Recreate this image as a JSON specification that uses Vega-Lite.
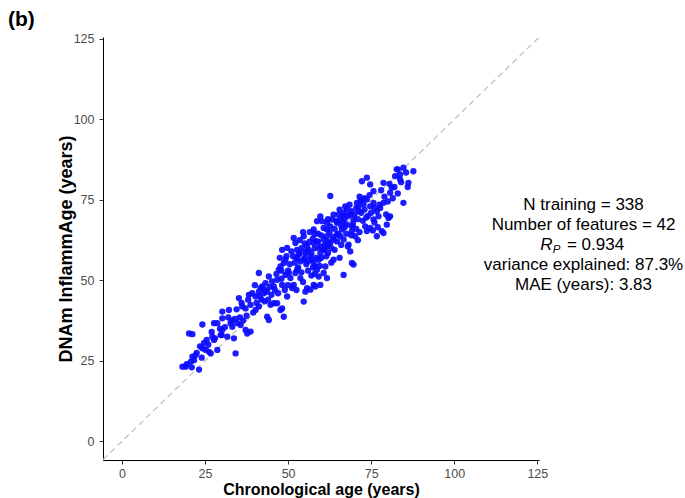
{
  "$schema": "https://vega.github.io/schema/vega-lite/v6.json",
  "width": 436,
  "height": 423,
  "autosize": {"type": "none"},
  "padding": {"left": 103, "top": 37, "right": 146, "bottom": 38},
  "background": "white",
  "title": {"text": "(b)", "anchor": "start", "frame": "group", "fontSize": 21, "fontWeight": "bold", "font": "Liberation Sans", "color": "black", "dx": -95, "offset": 3},
  "config": {
    "view": {"stroke": null},
    "axis": {"grid": false, "domainColor": "black", "domainWidth": 1, "tickColor": "#333333", "tickSize": 4, "labelColor": "#4d4d4d", "labelFont": "Liberation Sans", "labelFontSize": 12.5, "titleFont": "Liberation Sans", "titleFontWeight": "bold", "titleColor": "black"}
  },
  "datasets": {
    "pts": [
      {"x":18.2,"y":23.2},{"x":19.2,"y":23.2},{"x":20.7,"y":24.7},{"x":21.7,"y":25.2},{"x":23.2,"y":22.3},{"x":21.2,"y":26.3},{"x":22.2,"y":26.8},{"x":24.2,"y":28.9},{"x":25.2,"y":28.4},{"x":26.2,"y":27.8},
      {"x":26.7,"y":27.3},{"x":28.7,"y":28.4},{"x":24.7,"y":30.6},{"x":27.2,"y":32.5},{"x":27.7,"y":31.5},{"x":29.7,"y":33.0},{"x":30.2,"y":34.6},{"x":31.7,"y":32.5},{"x":33.7,"y":32.0},{"x":34.2,"y":27.3},
      {"x":20.2,"y":33.5},{"x":21.2,"y":33.3},{"x":24.2,"y":36.3},{"x":27.7,"y":36.7},{"x":28.7,"y":36.7},{"x":30.2,"y":38.2},{"x":30.2,"y":40.3},{"x":32.2,"y":40.8},{"x":32.7,"y":36.7},{"x":33.2,"y":35.6},
      {"x":34.7,"y":36.7},{"x":35.7,"y":36.1},{"x":37.2,"y":34.6},{"x":38.7,"y":34.1},{"x":37.7,"y":33.5},{"x":35.2,"y":44.5},{"x":36.2,"y":41.9},{"x":37.2,"y":41.3},{"x":38.2,"y":45.5},{"x":38.7,"y":42.4},
      {"x":40.2,"y":40.8},{"x":41.2,"y":41.9},{"x":39.2,"y":46.0},{"x":40.2,"y":45.0},{"x":41.2,"y":46.5},{"x":41.7,"y":47.6},{"x":42.7,"y":46.0},{"x":43.7,"y":46.5},{"x":44.2,"y":37.7},{"x":43.7,"y":38.7},
      {"x":44.7,"y":42.4},{"x":45.7,"y":42.9},{"x":46.7,"y":42.9},{"x":47.7,"y":40.8},{"x":48.2,"y":41.3},{"x":48.7,"y":38.7},{"x":49.7,"y":45.0},{"x":41.2,"y":52.3},{"x":42.2,"y":48.1},{"x":43.2,"y":49.1},
      {"x":44.2,"y":51.2},{"x":45.2,"y":49.7},{"x":45.7,"y":48.1},{"x":46.7,"y":50.2},{"x":47.2,"y":53.3},{"x":47.7,"y":54.3},{"x":48.2,"y":48.6},{"x":49.2,"y":51.7},{"x":50.2,"y":52.3},{"x":50.7,"y":50.7},
      {"x":51.2,"y":47.6},{"x":51.7,"y":48.6},{"x":52.2,"y":52.3},{"x":52.7,"y":53.3},{"x":53.7,"y":50.7},{"x":54.7,"y":43.4},{"x":55.2,"y":46.5},{"x":55.7,"y":47.6},{"x":56.7,"y":47.1},{"x":57.7,"y":48.6},
      {"x":58.2,"y":48.1},{"x":59.2,"y":51.2},{"x":59.7,"y":48.6},{"x":60.7,"y":52.3},{"x":61.7,"y":50.7},{"x":61.2,"y":54.3},{"x":66.7,"y":51.7},{"x":69.7,"y":54.9},{"x":69.2,"y":55.4},{"x":49.2,"y":56.4},
      {"x":48.7,"y":55.4},{"x":48.2,"y":59.5},{"x":49.7,"y":60.1},{"x":51.7,"y":63.2},{"x":52.2,"y":61.6},{"x":52.7,"y":59.5},{"x":53.2,"y":58.0},{"x":52.7,"y":56.9},{"x":53.7,"y":55.9},{"x":54.7,"y":56.4},
      {"x":54.7,"y":63.7},{"x":55.2,"y":58.5},{"x":55.7,"y":60.6},{"x":56.2,"y":59.5},{"x":56.7,"y":57.5},{"x":57.2,"y":56.4},{"x":57.7,"y":55.4},{"x":58.2,"y":54.3},{"x":58.7,"y":53.3},{"x":59.2,"y":56.4},
      {"x":57.7,"y":61.6},{"x":58.7,"y":62.1},{"x":59.2,"y":60.1},{"x":59.7,"y":58.5},{"x":60.7,"y":59.5},{"x":61.7,"y":60.6},{"x":62.7,"y":61.6},{"x":63.7,"y":56.4},{"x":63.7,"y":62.7},{"x":64.7,"y":62.1},
      {"x":65.7,"y":63.7},{"x":66.7,"y":62.7},{"x":68.2,"y":61.1},{"x":68.7,"y":59.0},{"x":69.2,"y":65.3},{"x":57.7,"y":65.8},{"x":58.7,"y":68.4},{"x":59.7,"y":69.9},{"x":60.7,"y":66.3},{"x":61.7,"y":65.8},
      {"x":62.7,"y":66.8},{"x":63.7,"y":70.4},{"x":64.7,"y":67.9},{"x":65.7,"y":68.9},{"x":66.7,"y":71.0},{"x":67.2,"y":73.0},{"x":67.7,"y":72.0},{"x":68.7,"y":70.4},{"x":69.7,"y":68.9},{"x":70.2,"y":63.7},
      {"x":70.7,"y":74.1},{"x":71.2,"y":73.0},{"x":71.7,"y":74.6},{"x":72.2,"y":75.1},{"x":72.7,"y":73.6},{"x":73.2,"y":66.8},{"x":73.7,"y":65.3},{"x":74.7,"y":66.3},{"x":75.7,"y":68.9},{"x":76.7,"y":71.5},
      {"x":77.2,"y":69.9},{"x":77.7,"y":72.5},{"x":78.7,"y":74.1},{"x":79.7,"y":67.3},{"x":80.2,"y":69.4},{"x":80.7,"y":69.9},{"x":78.2,"y":65.3},{"x":78.7,"y":64.7},{"x":76.7,"y":63.7},{"x":62.7,"y":76.2},
      {"x":72.2,"y":80.8},{"x":73.7,"y":81.9},{"x":74.7,"y":79.8},{"x":75.7,"y":77.7},{"x":78.7,"y":80.3},{"x":80.7,"y":77.2},{"x":81.2,"y":78.8},{"x":82.7,"y":84.5},{"x":83.7,"y":82.9},{"x":84.7,"y":85.0},
      {"x":84.7,"y":74.1},{"x":86.2,"y":80.3},{"x":87.7,"y":83.9},{"x":83.7,"y":81.4},{"x":82.2,"y":82.4},{"x":64.7,"y":64.2},{"x":66.2,"y":65.8},{"x":65.2,"y":70.4},{"x":63.2,"y":68.9},{"x":61.7,"y":67.9},
      {"x":60.2,"y":68.4},{"x":60.7,"y":62.7},{"x":61.7,"y":63.7},{"x":67.7,"y":67.3},{"x":69.2,"y":66.8},{"x":71.2,"y":71.5},{"x":74.7,"y":73.0},{"x":73.7,"y":75.1},{"x":75.7,"y":74.1},
      {"x":50.5,"y":55.0},{"x":51.5,"y":57.5},{"x":53.0,"y":54.0},{"x":54.0,"y":52.5},{"x":55.5,"y":55.0},{"x":56.0,"y":53.0},{"x":57.0,"y":51.5},{"x":58.0,"y":52.0},{"x":56.5,"y":62.0},{"x":57.5,"y":63.0},
      {"x":55.0,"y":61.5},{"x":54.0,"y":60.0},{"x":53.5,"y":62.5},{"x":60.0,"y":64.0},{"x":61.0,"y":61.0},{"x":62.0,"y":58.5},{"x":63.0,"y":60.0},{"x":64.0,"y":66.0},{"x":65.0,"y":64.5},{"x":66.0,"y":67.0},
      {"x":67.0,"y":69.0},{"x":68.0,"y":70.0},{"x":69.0,"y":71.5},{"x":70.0,"y":70.5},{"x":71.0,"y":69.0},{"x":72.0,"y":71.0},{"x":73.0,"y":72.0},{"x":74.0,"y":70.0},{"x":75.0,"y":71.0},{"x":76.0,"y":72.5},
      {"x":70.5,"y":72.5},{"x":71.5,"y":76.0},{"x":68.5,"y":73.5},{"x":66.5,"y":68.0},{"x":65.5,"y":72.0},{"x":62.0,"y":69.0},{"x":59.0,"y":64.5},{"x":58.0,"y":60.0},{"x":57.0,"y":58.5},{"x":55.0,"y":57.0},
      {"x":52.0,"y":55.5},{"x":50.0,"y":53.0},{"x":48.0,"y":50.5},{"x":46.0,"y":47.0},{"x":45.0,"y":45.5},{"x":44.0,"y":44.0},{"x":47.0,"y":46.0},{"x":43.0,"y":43.5},{"x":42.0,"y":44.0},{"x":40.5,"y":43.0},
      {"x":39.5,"y":40.0},{"x":37.5,"y":39.0},{"x":36.5,"y":37.5},{"x":35.5,"y":38.5},{"x":34.0,"y":38.0},{"x":31.0,"y":35.5},{"x":29.5,"y":35.0},{"x":28.0,"y":32.0},{"x":26.0,"y":30.0},{"x":25.5,"y":31.5},
      {"x":23.5,"y":29.5},{"x":22.5,"y":27.5},{"x":19.5,"y":24.0},{"x":60.0,"y":57.0},{"x":61.5,"y":57.5},{"x":63.5,"y":63.5},{"x":64.0,"y":59.5},{"x":62.5,"y":65.0},{"x":66.0,"y":61.0},{"x":67.5,"y":64.5},
      {"x":69.5,"y":67.5},{"x":70.5,"y":66.0},{"x":72.5,"y":68.5},{"x":73.5,"y":69.5},{"x":76.0,"y":68.0},{"x":77.5,"y":73.5},{"x":79.0,"y":76.0},{"x":80.0,"y":74.5},{"x":81.5,"y":75.5},{"x":82.0,"y":79.0},
      {"x":83.0,"y":77.0},{"x":84.0,"y":80.5},{"x":85.5,"y":83.5},{"x":79.5,"y":70.5},{"x":77.0,"y":66.5},{"x":75.5,"y":65.5},{"x":71.0,"y":62.5},{"x":68.0,"y":60.5},{"x":65.5,"y":57.0},{"x":63.0,"y":55.5},
      {"x":59.5,"y":54.5},{"x":54.5,"y":49.5},{"x":52.5,"y":47.0},{"x":50.0,"y":48.5},{"x":49.0,"y":47.0},{"x":53.5,"y":58.5},{"x":56.0,"y":56.0},{"x":58.5,"y":57.0},{"x":61.0,"y":59.5},{"x":59.0,"y":62.0},
      {"x":56.5,"y":65.0},{"x":54.5,"y":65.0},{"x":52.5,"y":57.0},{"x":51.0,"y":59.0},{"x":49.5,"y":57.5},{"x":48.0,"y":53.0},{"x":47.5,"y":57.0},{"x":46.5,"y":52.0},{"x":44.5,"y":48.0},{"x":43.0,"y":47.0},
      {"x":41.5,"y":45.0},{"x":40.0,"y":48.5},{"x":38.0,"y":44.0},{"x":36.0,"y":43.0},{"x":34.5,"y":41.0},{"x":33.0,"y":37.5},{"x":32.0,"y":38.5},{"x":30.0,"y":33.0},{"x":27.0,"y":34.0},{"x":24.0,"y":26.0},
      {"x":21.0,"y":23.0},{"x":64.5,"y":68.5},{"x":66.5,"y":70.0},{"x":62.0,"y":62.0},{"x":60.0,"y":60.5},{"x":58.0,"y":64.5},{"x":55.5,"y":59.0},{"x":57.5,"y":54.0},{"x":67.0,"y":66.5},{"x":69.0,"y":64.0},
      {"x":71.5,"y":65.0},{"x":73.0,"y":75.5},{"x":74.5,"y":76.5},{"x":78.0,"y":78.0},{"x":80.5,"y":80.0},{"x":86.0,"y":79.0},{"x":83.0,"y":84.5}
    ],
    "diag": [{"x": -10, "y": -10, "x2": 130, "y2": 130}],
    "notes": [
      {"x": 138.9, "y": 73.4, "label": "N training = 338"},
      {"x": 138.9, "y": 67.2, "label": "Number of features = 42"},
      {"x": 138.9, "y": 54.8, "label": "variance explained: 87.3%"},
      {"x": 138.9, "y": 48.6, "label": "MAE (years): 3.83"}
    ],
    "rp": [{"x": 129.6, "y": 61.0, "r": "R", "p": "P", "v": "= 0.934", "xv": 133.9}]
  },
  "layer": [
    {
      "data": {"name": "diag"},
      "mark": {"type": "rule", "clip": true, "color": "#bdbdbd", "strokeDash": [6, 4], "strokeWidth": 1.2},
      "encoding": {
        "x": {"field": "x", "type": "quantitative", "scale": {"domain": [-5.7, 125.5], "nice": false, "zero": false}, "axis": {"values": [0, 25, 50, 75, 100, 125], "title": "Chronological age (years)", "titleFontSize": 16, "titlePadding": 2, "labelPadding": 3}},
        "y": {"field": "y", "type": "quantitative", "scale": {"domain": [-5.8, 125.6], "nice": false, "zero": false}, "axis": {"values": [0, 25, 50, 75, 100, 125], "title": "DNAm InflammAge (years)", "titleFontSize": 18, "titlePadding": -2, "labelPadding": 5}},
        "x2": {"field": "x2"},
        "y2": {"field": "y2"}
      }
    },
    {
      "data": {"name": "pts"},
      "mark": {"type": "circle", "size": 40, "color": "#0a0aff", "opacity": 0.92},
      "encoding": {
        "x": {"field": "x", "type": "quantitative"},
        "y": {"field": "y", "type": "quantitative"}
      }
    },
    {
      "data": {"name": "notes"},
      "mark": {"type": "text", "font": "Liberation Sans", "fontSize": 17, "color": "black", "align": "center", "baseline": "middle", "clip": false},
      "encoding": {
        "x": {"field": "x", "type": "quantitative"},
        "y": {"field": "y", "type": "quantitative"},
        "text": {"field": "label"}
      }
    },
    {
      "data": {"name": "rp"},
      "mark": {"type": "text", "font": "Liberation Sans", "fontSize": 17, "fontStyle": "italic", "color": "black", "align": "right", "baseline": "middle"},
      "encoding": {
        "x": {"field": "x", "type": "quantitative"},
        "y": {"field": "y", "type": "quantitative"},
        "text": {"field": "r"}
      }
    },
    {
      "data": {"name": "rp"},
      "mark": {"type": "text", "font": "Liberation Sans", "fontSize": 11.5, "fontStyle": "italic", "color": "black", "align": "left", "baseline": "middle", "dy": 5},
      "encoding": {
        "x": {"field": "x", "type": "quantitative"},
        "y": {"field": "y", "type": "quantitative"},
        "text": {"field": "p"}
      }
    },
    {
      "data": {"name": "rp"},
      "mark": {"type": "text", "font": "Liberation Sans", "fontSize": 17, "color": "black", "align": "left", "baseline": "middle"},
      "encoding": {
        "x": {"field": "xv", "type": "quantitative"},
        "y": {"field": "y", "type": "quantitative"},
        "text": {"field": "v"}
      }
    }
  ]
}
